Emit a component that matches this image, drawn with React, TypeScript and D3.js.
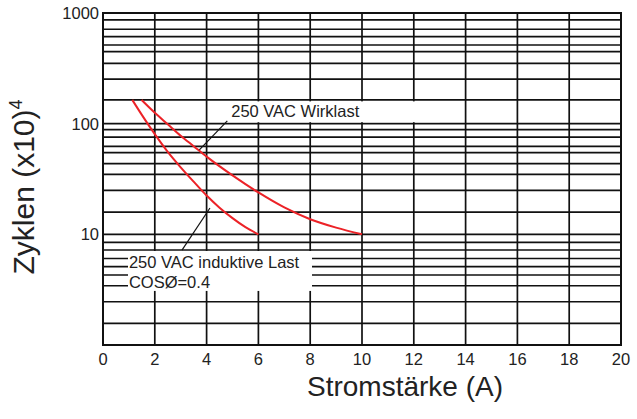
import * as d3 from "d3";

// x axis: current in A
const xTicks = [0, 2, 4, 6, 8, 10, 12, 14, 16, 18, 20];
// y axis: cycles (x10^4), labelled decades
const yTickLabels = [10, 100, 1000];
// horizontal grid lines as drawn in the original (not a clean log grid)
const yGridLines = [
  1.57, 2.46, 3.43, 4.29, 5.1, 6.05, 7.22, 8.47, 10,
  15.9, 25, 34.8, 43.5, 54.7, 62.4, 75.7, 88.3, 100,
  164, 253, 351, 447, 514, 611, 713, 865,
];

// 250 VAC inductive load, cos phi = 0.4
const inductiveCurrent = [1.13, 1.5, 2, 2.5, 3, 3.5, 4, 4.5, 5, 5.5, 6];
const inductiveCycles = [164, 120, 80.4, 55.6, 40.3, 29.9, 22.4, 17.4, 14, 11.6, 10];

// 250 VAC resistive load
const resistiveCurrent = [1.49, 2, 2.5, 3, 3.5, 4, 5, 6, 7, 8, 9, 10];
const resistiveCycles = [164, 125.6, 98.8, 77.8, 62.6, 50.4, 34.1, 23.9, 17.5, 13.7, 11.5, 10];

const width = 637;
const height = 419;
const marginLeft = 103;
const marginRight = 16;
const marginTop = 13;
const marginBottom = 74;

const font = "'Liberation Sans', Arial, Helvetica, sans-serif";

export default function App() {
  const x = d3
    .scaleLinear()
    .domain([0, 20])
    .range([marginLeft, width - marginRight]);
  const y = d3
    .scaleLog()
    .domain([1, 1000])
    .range([height - marginBottom, marginTop]);

  const line = d3
    .line<[number, number]>()
    .x((d) => x(d[0]))
    .y((d) => y(d[1]))
    .curve(d3.curveMonotoneX);

  const inductive = inductiveCurrent.map((c, i) => [c, inductiveCycles[i]] as [number, number]);
  const resistive = resistiveCurrent.map((c, i) => [c, resistiveCycles[i]] as [number, number]);

  const x0 = x(0);
  const x1 = x(20);
  const y0 = y(1);
  const y1 = y(1000);

  return (
    <svg
      width={width}
      height={height}
      style={{ position: "absolute", left: 0, top: 0, background: "#fff" }}
      fontFamily={font}
    >
      <rect width={width} height={height} fill="#fff" />

      {/* grid */}
      <g stroke="#111" strokeWidth={1.7}>
        {yGridLines.map((v) => (
          <line key={"h" + v} x1={x0} x2={x1} y1={y(v)} y2={y(v)} />
        ))}
        {xTicks.slice(1, -1).map((t) => (
          <line key={"v" + t} x1={x(t)} x2={x(t)} y1={y1} y2={y0} />
        ))}
        <rect x={x0} y={y1} width={x1 - x0} height={y0 - y1} fill="none" strokeWidth={2} />
      </g>

      {/* annotation boxes */}
      <rect x={x(4.75)} y={y(164) + 1.5} width={x(13) - x(4.75)} height={y(100) - y(164) - 3} fill="#fff" />
      <rect x={x(0.965)} y={y(7.07)} width={x(8.07) - x(0.965)} height={y(3.08) - y(7.07)} fill="#fff" />

      {/* curves */}
      <path d={line(inductive) ?? ""} fill="none" stroke="#ec2227" strokeWidth={2} />
      <path d={line(resistive) ?? ""} fill="none" stroke="#ec2227" strokeWidth={2} />

      {/* leader lines */}
      <g stroke="#111" strokeWidth={1.2}>
        <line x1={x(4.8)} y1={y(106)} x2={x(3.72)} y2={y(58)} />
        <line x1={x(4.13)} y1={y(17.3)} x2={x(3.05)} y2={y(7.2)} />
      </g>

      <g fontSize={16.5} fill="#222">
        <text x={x(4.95)} y={y(164) + 17.5}>250 VAC Wirklast</text>
        <text x={x(1.0)} y={y(7.07) + 17.5}>250 VAC induktive Last</text>
        <text x={x(1.0)} y={y(7.07) + 37.5}>COSØ=0.4</text>
      </g>

      {/* x tick labels */}
      <g fontSize={16.5} fill="#222" textAnchor="middle">
        {xTicks.map((t) => (
          <text key={t} x={x(t)} y={y0 + 20}>
            {t}
          </text>
        ))}
      </g>

      {/* y tick labels */}
      <g fontSize={16.5} fill="#222" textAnchor="end">
        {yTickLabels.map((t) => (
          <text key={t} x={x0 - 4} y={y(t) + 6}>
            {t}
          </text>
        ))}
      </g>

      {/* axis titles */}
      <text x={(x0 + x1) / 2 + 43} y={396} fontSize={28} fill="#222" textAnchor="middle">
        Stromstärke (A)
      </text>
      <text
        transform={`translate(34, ${y0 - 158}) rotate(-90)`}
        fontSize={30}
        fill="#222"
        textAnchor="middle"
      >
        Zyklen (x10)
        <tspan fontSize={18} dy={-12}>
          4
        </tspan>
      </text>
    </svg>
  );
}
